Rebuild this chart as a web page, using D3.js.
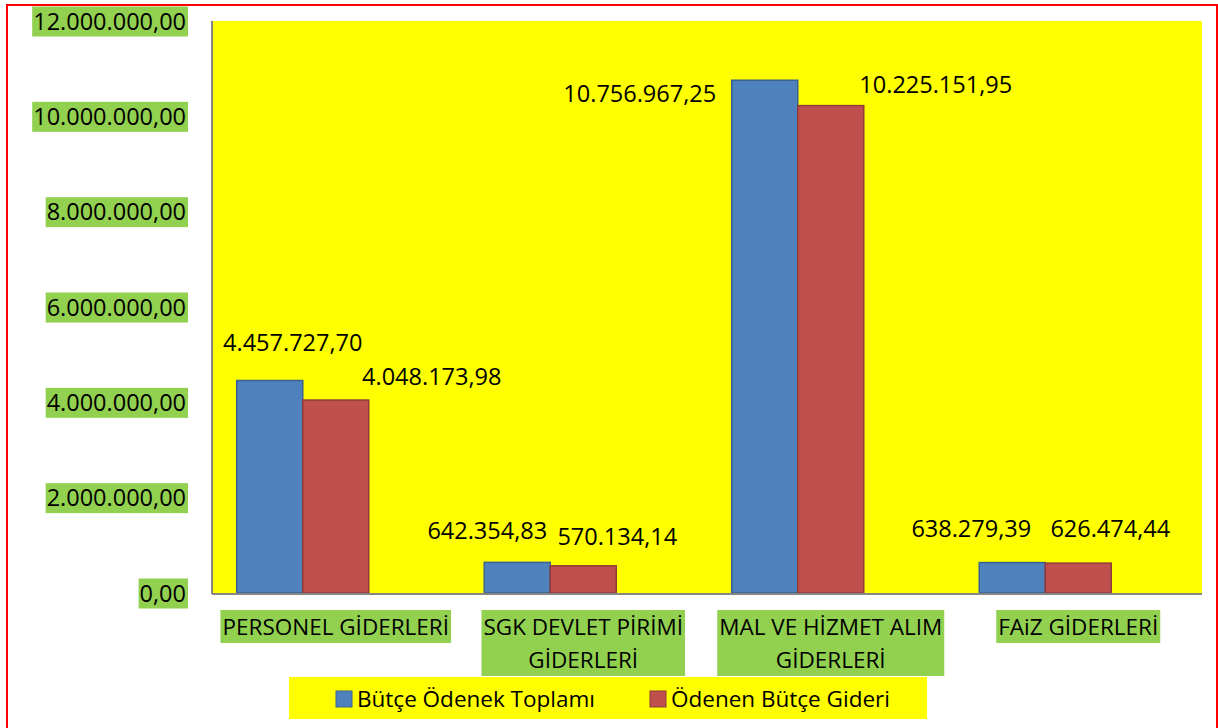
<!DOCTYPE html>
<html>
<head>
<meta charset="utf-8">
<script src="https://cdn.jsdelivr.net/npm/d3@7"></script>
<style>
  body { margin: 0; background: #fff; }
  svg { display: block; font-family: "Open Sans", "Noto Sans", sans-serif; }
</style>
</head>
<body>
<div id="chart"></div>
<script>
// chart values
const categories = ["PERSONEL GİDERLERİ", "SGK DEVLET PİRİMİ\nGİDERLERİ", "MAL VE HİZMET ALIM\nGİDERLERİ", "FAiZ GİDERLERİ"];
const seriesNames = ["Bütçe Ödenek Toplamı", "Ödenen Bütçe Gideri"];
const butceOdenek = [4457727.70, 642354.83, 10756967.25, 638279.39];
const odenenGider = [4048173.98, 570134.14, 10225151.95, 626474.44];
const yTicks = [0, 2000000, 4000000, 6000000, 8000000, 10000000, 12000000];

// labels were dragged by hand in the original, so keep their nudges (px) apart from the data
const labelNudge = [
  [[23, -38], [-30, -32], [-125, 14], [-41, -34]],
  [[96, -23], [34, -29], [105, -21], [32, -34]]
];

const colors = ["#4F81BD", "#C0504D"];
const strokes = ["#3A6291", "#8E3B39"];
const green = "#92D050";

const W = 1218, H = 728;
const plot = { left: 212, right: 1202, top: 21, bottom: 593 };

const trLocale = d3.formatLocale({ decimal: ",", thousands: ".", grouping: [3], currency: ["", ""] });
const fmt = trLocale.format(",.2f");

const svg = d3.select("#chart").append("svg").attr("width", W).attr("height", H);

// outer red frame
svg.append("rect")
  .attr("x", 7).attr("y", 5).attr("width", 1210).attr("height", 760)
  .attr("fill", "none").attr("stroke", "#FF0000").attr("stroke-width", 2);

const x0 = d3.scaleBand().domain(d3.range(categories.length)).range([plot.left, plot.right]);
// third empty slot: original chart had a hidden series, bars sit left of centre
const x1 = d3.scaleBand().domain([0, 1, 2]).range([0, x0.bandwidth()]).paddingOuter(0.375);
const y = d3.scaleLinear().domain([0, 12000000]).range([plot.bottom, plot.top]);

// plot area
svg.append("rect")
  .attr("x", plot.left).attr("y", plot.top)
  .attr("width", plot.right - plot.left).attr("height", plot.bottom - plot.top)
  .attr("fill", "#FFFF00");

// y axis labels with green boxes
const yAxis = svg.append("g").attr("transform", `translate(${plot.left - 26},0)`)
  .call(d3.axisLeft(y).tickValues(yTicks).tickFormat(fmt).tickSize(0).tickPadding(0));
yAxis.select(".domain").remove();
yAxis.selectAll(".tick text")
  .attr("font-size", 23.5).attr("fill", "#000").attr("font-family", "Open Sans")
  .attr("dy", "0.35em");
yAxis.selectAll(".tick").each(function () {
  const t = d3.select(this).select("text");
  const b = t.node().getBBox();
  d3.select(this).insert("rect", "text")
    .attr("x", b.x - 1).attr("y", -15).attr("width", b.width + 3).attr("height", 30)
    .attr("fill", green);
});

// bars
const series = [butceOdenek, odenenGider];
series.forEach((vals, s) => {
  svg.append("g").selectAll("rect")
    .data(vals)
    .join("rect")
    .attr("x", (d, i) => x0(i) + x1(s))
    .attr("y", d => y(d))
    .attr("width", x1.bandwidth())
    .attr("height", d => y(0) - y(d))
    .attr("fill", colors[s])
    .attr("stroke", strokes[s])
    .attr("stroke-width", 1.5);
});

// axis lines
svg.append("line")
  .attr("x1", plot.left).attr("x2", plot.left).attr("y1", plot.top).attr("y2", plot.bottom + 1)
  .attr("stroke", "#868686").attr("stroke-width", 2);
svg.append("line")
  .attr("x1", plot.left).attr("x2", plot.right).attr("y1", plot.bottom + 1).attr("y2", plot.bottom + 1)
  .attr("stroke", "#868686").attr("stroke-width", 2);

// value labels
series.forEach((vals, s) => {
  svg.append("g").selectAll("text")
    .data(vals)
    .join("text")
    .attr("x", (d, i) => x0(i) + x1(s) + x1.bandwidth() / 2 + labelNudge[s][i][0])
    .attr("y", (d, i) => y(d) + labelNudge[s][i][1])
    .attr("dy", "0.35em")
    .attr("text-anchor", "middle")
    .attr("font-size", 23.5)
    .text(d => fmt(d));
});

// category labels
const catG = svg.append("g");
categories.forEach((c, i) => {
  const cx = x0(i) + x0.bandwidth() / 2;
  const lines = c.split("\n");
  const g = catG.append("g");
  const t = g.append("text").attr("text-anchor", "middle").attr("font-size", 22.5);
  lines.forEach((l, k) => {
    t.append("tspan").attr("x", cx).attr("y", 627 + k * 33).attr("dy", "0.35em").text(l);
  });
  const b = t.node().getBBox();
  g.insert("rect", "text")
    .attr("x", b.x - 2).attr("y", 610)
    .attr("width", b.width + 4).attr("height", 33 * lines.length)
    .attr("fill", green);
});

// legend
const legend = svg.append("g");
legend.append("rect").attr("x", 289).attr("y", 677).attr("width", 638).attr("height", 42).attr("fill", "#FFFF00");
const legendX = [336, 650];
seriesNames.forEach((name, s) => {
  legend.append("rect")
    .attr("x", legendX[s]).attr("y", 691).attr("width", 16).attr("height", 16)
    .attr("fill", colors[s]).attr("stroke", strokes[s]).attr("stroke-width", 1);
  legend.append("text")
    .attr("x", legendX[s] + 21).attr("y", 699).attr("dy", "0.35em")
    .attr("font-size", 22.5)
    .text(name);
});
</script>
</body>
</html>
